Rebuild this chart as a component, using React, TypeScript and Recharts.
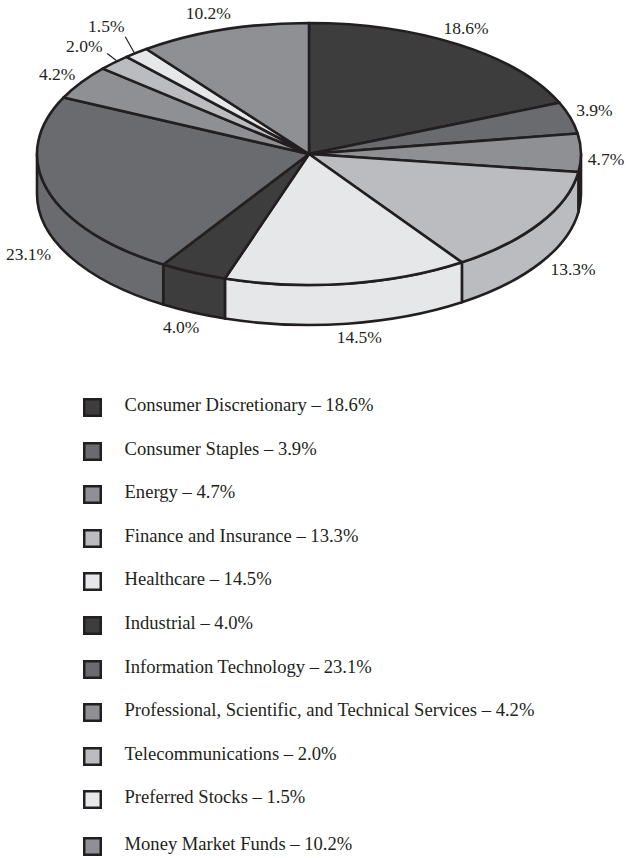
import React from "react";
import { PieChart, Pie, Legend } from "recharts";

// Portfolio allocation by sector, in percent.
const sectors = [
  "Consumer Discretionary",
  "Consumer Staples",
  "Energy",
  "Finance and Insurance",
  "Healthcare",
  "Industrial",
  "Information Technology",
  "Professional, Scientific, and Technical Services",
  "Telecommunications",
  "Preferred Stocks",
  "Money Market Funds",
];
const shares = [18.6, 3.9, 4.7, 13.3, 14.5, 4.0, 23.1, 4.2, 2.0, 1.5, 10.2];
const shades = [
  "#3d3d3e",
  "#6a6b6e",
  "#8f9093",
  "#bbbcbf",
  "#e6e7e9",
  "#3d3d3e",
  "#6a6b6e",
  "#8f9093",
  "#bbbcbf",
  "#e6e7e9",
  "#8f9093",
];

const rows = sectors.map((name, i) => ({ name, value: shares[i], fill: shades[i] }));

const INK = "#231f20";
const FONT = "'Liberation Serif', 'Times New Roman', serif";
const WIDTH = 627;
const HEIGHT = 858;
const CX = 309;
const CY = 154;
const RX = 272;
const TILT = 131 / 272; // vertical squash of the disc
const DEPTH = 40;
const LEGEND_PITCH = 43.6;
const LAST_ROW_GAP = 3; // the final legend row sits slightly lower

// Label offsets from the point on the rim at each slice's mid angle.
const labelOffsets = [
  [7, -10.7],
  [24, -2],
  [25, 12],
  [33, 52],
  [12, 59],
  [-12, 60],
  [-19, 70],
  [-24, -2],
  [-30, -10.5],
  [-30, -21],
  [-15, -11],
];
// Short leader lines for the two narrowest slices, as rim-relative segments.
const leaders: Record<number, number[]> = {
  8: [2, -2, -7, -9],
  9: [-2, 0, -11, -16],
};

// Recharts angles run counter-clockwise from +x; the disc is parametrised clockwise from the top.
const toClock = (deg: number) => 90 - deg;
const rim = (cx: number, cy: number, rx: number, clock: number) => {
  const t = (clock * Math.PI) / 180;
  return [cx + rx * Math.sin(t), cy - rx * TILT * Math.cos(t)];
};

function TopFace(props: any) {
  const { cx, cy, outerRadius: rx, startAngle, endAngle, fill } = props;
  const a = toClock(startAngle);
  const b = toClock(endAngle);
  const [x1, y1] = rim(cx, cy, rx, a);
  const [x2, y2] = rim(cx, cy, rx, b);
  const large = b - a > 180 ? 1 : 0;
  return (
    <path
      d={`M${cx} ${cy}L${x1} ${y1}A${rx} ${rx * TILT} 0 ${large} 1 ${x2} ${y2}Z`}
      fill={fill}
      stroke={INK}
      strokeWidth={2.6}
      strokeLinejoin="round"
    />
  );
}

// Only the part of a slice between the right and left extremes shows a side wall.
function SideWall(props: any) {
  const { cx, cy, outerRadius: rx, startAngle, endAngle, fill } = props;
  const a = Math.max(toClock(startAngle), 90);
  const b = Math.min(toClock(endAngle), 270);
  if (b <= a) return null;
  const [x1, y1] = rim(cx, cy, rx, a);
  const [x2, y2] = rim(cx, cy, rx, b);
  const ry = rx * TILT;
  return (
    <path
      d={`M${x1} ${y1}A${rx} ${ry} 0 0 1 ${x2} ${y2}L${x2} ${y2 + DEPTH}A${rx} ${ry} 0 0 0 ${x1} ${y1 + DEPTH}Z`}
      fill={fill}
      stroke={INK}
      strokeWidth={2.6}
      strokeLinejoin="round"
    />
  );
}

function SliceLabel(props: any) {
  const { cx, cy, outerRadius: rx, midAngle, index, value } = props;
  const [px, py] = rim(cx, cy, rx, toClock(midAngle));
  const [dx, dy] = labelOffsets[index];
  const lead = leaders[index];
  return (
    <g>
      {lead && (
        <line
          x1={px + lead[0]}
          y1={py + lead[1]}
          x2={px + lead[2]}
          y2={py + lead[3]}
          stroke={INK}
          strokeWidth={1.2}
        />
      )}
      <text
        x={px + dx}
        y={py + dy}
        textAnchor="middle"
        fontFamily={FONT}
        fontSize={17.5}
        fill={INK}
      >
        {`${value.toFixed(1)}%`}
      </text>
    </g>
  );
}

function LegendRows(props: any) {
  const payload = (props.payload || []).filter((entry: any) => entry.type !== "none");
  return (
    <div style={{ position: "relative", width: WIDTH, height: 460 }}>
      {payload.map((entry: any, i: number) => (
        <div
          key={entry.value}
          style={{
            position: "absolute",
            left: 0,
            top: i * LEGEND_PITCH + (i === payload.length - 1 ? LAST_ROW_GAP : 0),
            width: WIDTH,
          }}
        >
          <svg width={19} height={19} style={{ position: "absolute", left: 83, top: 0, display: "block" }}>
            <rect x={1.25} y={1.25} width={16.5} height={16.5} fill={entry.color} stroke={INK} strokeWidth={2.5} />
          </svg>
          <span
            style={{
              position: "absolute",
              left: 124.5,
              top: -3,
              whiteSpace: "nowrap",
              fontFamily: FONT,
              fontSize: 18.6,
              lineHeight: "20px",
              color: INK,
            }}
          >
            {`${entry.value} – ${entry.payload.value.toFixed(1)}%`}
          </span>
        </div>
      ))}
    </div>
  );
}

export default function App() {
  return (
    <div style={{ position: "absolute", left: 0, top: 0, width: WIDTH, height: HEIGHT, background: "#fff" }}>
      <PieChart width={WIDTH} height={HEIGHT} margin={{ top: 0, right: 0, bottom: 0, left: 0 }}>
        <Pie
          data={rows}
          dataKey="value"
          nameKey="name"
          cx={CX}
          cy={CY}
          outerRadius={RX}
          startAngle={90}
          endAngle={-270}
          legendType="none"
          shape={SideWall}
          label={false}
          labelLine={false}
          isAnimationActive={false}
        />
        <Pie
          data={rows}
          dataKey="value"
          nameKey="name"
          cx={CX}
          cy={CY}
          outerRadius={RX}
          startAngle={90}
          endAngle={-270}
          shape={TopFace}
          label={SliceLabel}
          labelLine={false}
          isAnimationActive={false}
        />
        <Legend
          content={LegendRows}
          itemSorter={null}
          wrapperStyle={{ position: "absolute", left: 0, top: 398, width: WIDTH, height: 460 }}
        />
      </PieChart>
    </div>
  );
}
